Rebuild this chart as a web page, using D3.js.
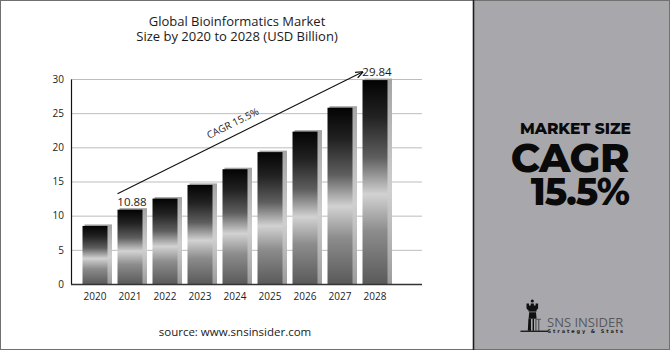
<!DOCTYPE html>
<html>
<head>
<meta charset="utf-8">
<script src="https://cdn.jsdelivr.net/npm/d3@7"></script>
<style>
  html, body { margin: 0; padding: 0; background: #fff; }
  svg { display: block; }
</style>
</head>
<body>
<svg id="chart" width="670" height="350"></svg>
<script>
// Market size by year, USD billion
const years = ["2020", "2021", "2022", "2023", "2024", "2025", "2026", "2027", "2028"];
const marketSize = [8.5, 10.88, 12.5, 14.5, 16.8, 19.3, 22.3, 25.8, 29.84];
const yTicks = [0, 5, 10, 15, 20, 25, 30];
const labelledYears = ["2021", "2028"];
const cagrText = "CAGR 15.5%";

const svg = d3.select("#chart");
const defs = svg.append("defs");

// Metallic bar fill
const barGrad = defs.append("linearGradient")
  .attr("id", "barGrad").attr("x1", 0).attr("y1", 0).attr("x2", 0).attr("y2", 1);
[[0, "#030303"], [0.18, "#222"], [0.38, "#5e5e5e"], [0.56, "#d2d2d2"], [0.74, "#8c8c8c"], [1, "#5a5a5a"]]
  .forEach(([o, c]) => barGrad.append("stop").attr("offset", o).attr("stop-color", c));

const shadowGrad = defs.append("linearGradient")
  .attr("id", "shadowGrad").attr("x1", 0).attr("y1", 0).attr("x2", 0).attr("y2", 1);
[[0, "#a4a4a4"], [0.55, "#cfcfcf"], [1, "#9c9c9c"]]
  .forEach(([o, c]) => shadowGrad.append("stop").attr("offset", o).attr("stop-color", c));

defs.append("marker")
  .attr("id", "arrowHead").attr("viewBox", "0 0 10 10")
  .attr("refX", 9).attr("refY", 5)
  .attr("markerWidth", 7).attr("markerHeight", 7)
  .attr("orient", "auto")
  .append("path").attr("d", "M0,1 L10,5 L0,9").attr("fill", "none")
  .attr("stroke", "#111").attr("stroke-width", 1.6);

// Outer frame
svg.append("rect").attr("x", 0.5).attr("y", 0.5).attr("width", 669).attr("height", 349)
  .attr("fill", "#fff").attr("stroke", "#707070").attr("stroke-width", 1);

// Side panel
svg.append("rect").attr("x", 474).attr("y", 1).attr("width", 195).attr("height", 348)
  .attr("fill", "#a8a8ac");
svg.append("line").attr("x1", 473.5).attr("x2", 473.5).attr("y1", 0).attr("y2", 350)
  .attr("stroke", "#1e1e1e").attr("stroke-width", 1.6);

// Scales
const x = d3.scaleBand().domain(years).range([77.5, 392.5])
  .paddingInner(0.286).paddingOuter(0.143);
const y = d3.scaleLinear().domain([0, 30]).range([284, 79]);

const textFont = "'Open Sans', 'Noto Sans', sans-serif";

// Title
const title = svg.append("text").attr("text-anchor", "middle")
  .attr("font-family", textFont).attr("font-size", 13).attr("fill", "#1a1a1a");
title.append("tspan").attr("x", 237).attr("y", 26).text("Global Bioinformatics Market");
title.append("tspan").attr("x", 237).attr("y", 41).text("Size by 2020 to 2028 (USD Billion)");

// Gridlines
svg.append("g").selectAll("line").data(yTicks.filter(t => t > 0)).join("line")
  .attr("x1", 71).attr("x2", 422)
  .attr("y1", d => y(d) + 0.5).attr("y2", d => y(d) + 0.5)
  .attr("stroke", "#bdbdbd").attr("stroke-width", 1);

// Y axis
const yAxis = svg.append("g").attr("transform", "translate(71,0)")
  .call(d3.axisLeft(y).tickValues(yTicks).tickSize(0).tickPadding(7));
yAxis.select(".domain").attr("stroke", "#111").attr("stroke-width", 1.2);
yAxis.selectAll("text").attr("font-family", textFont).attr("font-size", 10).attr("fill", "#222");

// Bars with back shadow
const data = years.map((yr, i) => ({ yr, v: marketSize[i] }));
const bars = svg.append("g");
bars.selectAll("rect.shadow").data(data).join("rect").attr("class", "shadow")
  .attr("x", d => x(d.yr) + 2)
  .attr("y", d => y(d.v) - 1.5)
  .attr("width", x.bandwidth() + 2.5)
  .attr("height", d => y(0) - y(d.v) + 1.5)
  .attr("fill", "url(#shadowGrad)");
bars.selectAll("rect.bar").data(data).join("rect").attr("class", "bar")
  .attr("x", d => x(d.yr))
  .attr("y", d => y(d.v))
  .attr("width", x.bandwidth())
  .attr("height", d => y(0) - y(d.v))
  .attr("fill", "url(#barGrad)");

// X axis
const xAxis = svg.append("g").attr("transform", `translate(0,${y(0)})`)
  .call(d3.axisBottom(x).tickSize(0).tickPadding(9));
xAxis.select(".domain").attr("d", "M71,0.5H422").attr("stroke", "#333").attr("stroke-width", 1.5);
xAxis.selectAll("text").attr("font-family", textFont).attr("font-size", 10).attr("fill", "#222");

// Value labels
svg.append("g").selectAll("text").data(data.filter(d => labelledYears.includes(d.yr))).join("text")
  .attr("x", d => x(d.yr) + x.bandwidth() / 2 + 2)
  .attr("y", d => y(d.v) - 4)
  .attr("text-anchor", "middle")
  .attr("font-family", textFont).attr("font-size", 11.5).attr("fill", "#1a1a1a")
  .text(d => d.v.toFixed(2));

// Growth arrow from the 2021 label to the 2028 label
const first = data.find(d => d.yr === labelledYears[0]);
const last = data.find(d => d.yr === labelledYears[1]);
const ax1 = x(first.yr), ay1 = y(first.v) - 16;
const ax2 = x(last.yr), ay2 = y(last.v) - 8;
svg.append("line")
  .attr("x1", ax1).attr("y1", ay1).attr("x2", ax2).attr("y2", ay2)
  .attr("stroke", "#111").attr("stroke-width", 1.1)
  .attr("marker-end", "url(#arrowHead)");
const angle = Math.atan2(ay2 - ay1, ax2 - ax1) * 180 / Math.PI;
svg.append("text")
  .attr("transform", `translate(${(ax1 + ax2) / 2 - 3},${(ay1 + ay2) / 2 - 1}) rotate(${angle})`)
  .attr("text-anchor", "middle").attr("dy", -6)
  .attr("font-family", textFont).attr("font-size", 10).attr("fill", "#222")
  .text(cagrText);

// Source
svg.append("text").attr("x", 235).attr("y", 336).attr("text-anchor", "middle")
  .attr("font-family", textFont).attr("font-size", 11.5).attr("fill", "#1a1a1a")
  .text("source: www.snsinsider.com");

// Side panel headline, one text block with three lines
const headFont = "Montserrat, Inter, 'Open Sans', sans-serif";
const head = svg.append("text").attr("text-anchor", "end")
  .attr("font-family", headFont).attr("font-weight", 800).attr("fill", "#0a0a0a");
head.append("tspan").attr("x", 631).attr("y", 134).attr("font-size", 15.5).text("MARKET SIZE");
head.append("tspan").attr("x", 629).attr("y", 172).attr("font-size", 40)
  .attr("letter-spacing", -0.5).text("CAGR");
head.append("tspan").attr("x", 629).attr("y", 205).attr("font-size", 37)
  .attr("letter-spacing", -1).text("15.5%");

// Logo: rook emblem with wordmark
const logo = svg.append("g");
logo.append("circle").attr("cx", 532.3).attr("cy", 301).attr("r", 1.6).attr("fill", "#111");
logo.append("path")
  .attr("d", "M526.5,303.5 h2.5 v2 h1.7 v-2 h3.2 v2 h1.7 v-2 h2.5 v5 l-1.5,1.5 h-8.6 l-1.5,-1.5 z")
  .attr("fill", "#111");
logo.append("rect").attr("x", 528.5).attr("y", 310).attr("width", 8).attr("height", 1.6).attr("fill", "#111");
logo.append("path")
  .attr("d", "M529.2,312.2 h6.8 l0.6,6.5 h-8 z").attr("fill", "#111");
logo.append("path")
  .attr("d", "M528.4,318.7 h2.6 v12 h-3.2 z M532.6,318.7 h1.4 v12 h-1.4 z").attr("fill", "#111");
logo.append("path")
  .attr("d", "M535.2,318.7 h1.4 v12 h-1.4 z M538,318.7 h1.4 v12 h-1.4 z M536.6,318.7 h4.2 v1.2 h-4.2 z")
  .attr("fill", "#5e5e60");
logo.append("rect").attr("x", 520.5).attr("y", 330.6).attr("width", 28).attr("height", 1.3).attr("fill", "#111");
const word = logo.append("text");
word.append("tspan").attr("x", 547).attr("y", 326.5)
  .attr("font-family", "'Open Sans', sans-serif").attr("font-size", 13).attr("fill", "#58585a")
  .text("SNS INSIDER");
word.append("tspan").attr("x", 547.5).attr("y", 332.8)
  .attr("font-family", "'DejaVu Sans', sans-serif").attr("font-weight", "bold")
  .attr("font-size", 5).attr("letter-spacing", 1.9).attr("fill", "#222")
  .text("Strategy & Stats");
</script>
</body>
</html>
